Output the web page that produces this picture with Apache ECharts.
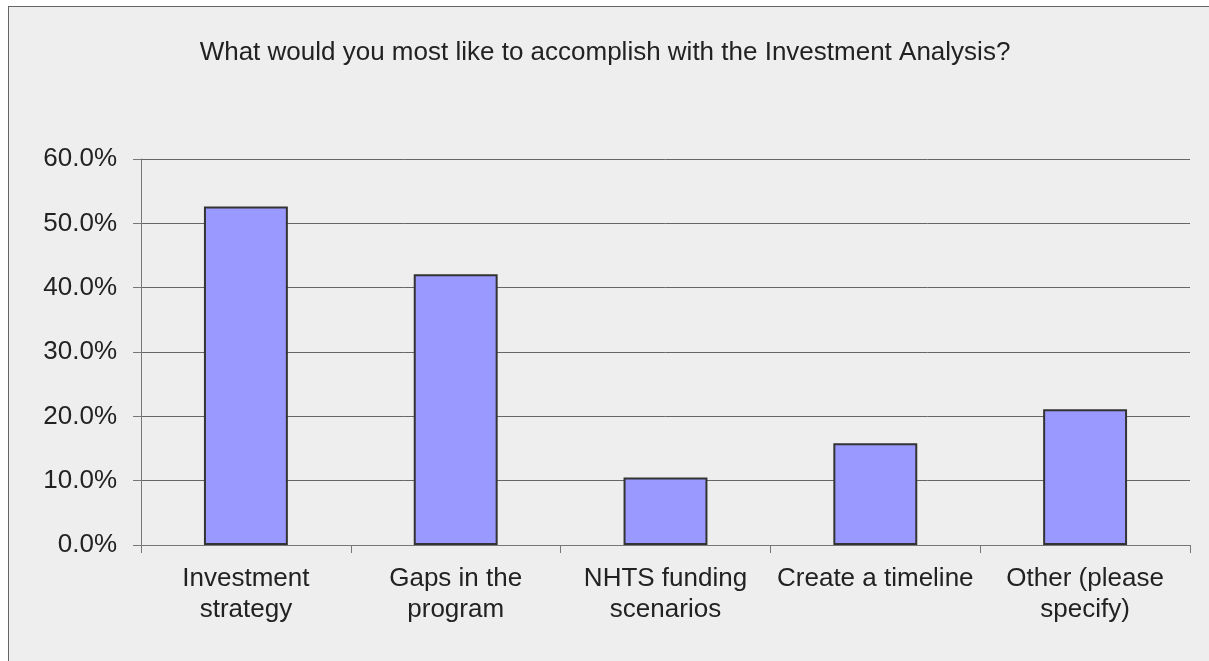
<!DOCTYPE html>
<html><head><meta charset="utf-8">
<script src="https://cdn.jsdelivr.net/npm/echarts@6/dist/echarts.min.js"></script>
<style>
html,body{margin:0;padding:0;background:#fff;width:1209px;height:661px;overflow:hidden;}
#frame{position:absolute;left:8px;top:6px;width:1300px;height:700px;border:1px solid #666;background:#eeeeee;}
#chart{position:absolute;left:0;top:0;width:1209px;height:661px;}
</style></head>
<body>
<div id="frame"></div>
<div id="chart"></div>
<script>
const categories = ['Investment\nstrategy', 'Gaps in the\nprogram', 'NHTS funding\nscenarios', 'Create a timeline', 'Other (please\nspecify)'];
const values = [52.6, 42.1, 10.5, 15.8, 21.1];
const yTicks = { min: 0, max: 60, interval: 10 };
const titleText = 'What would you most like to accomplish with the Investment Analysis?';

const chart = echarts.init(document.getElementById('chart'), null, {renderer: 'canvas'});
chart.setOption({
  backgroundColor: 'transparent',
  animation: false,
  title: {
    text: titleText, left: 600, top: 35, textAlign: 'center',
    textStyle: { fontFamily: 'Liberation Sans, Arial, sans-serif', fontSize: 26, fontWeight: 'normal', color: '#222' }
  },
  grid: { left: 141, right: 19, top: 159, bottom: 116 },
  xAxis: {
    type: 'category', data: categories,
    axisLine: { show: true, lineStyle: { color: '#777', width: 1 } },
    axisTick: { show: true, length: 8, alignWithLabel: false, interval: 0, lineStyle: { color: '#777' } },
    axisLabel: { interval: 0, margin: 18, lineHeight: 31, fontFamily: 'Liberation Sans, Arial, sans-serif', fontSize: 26, color: '#222' }
  },
  yAxis: {
    type: 'value', min: yTicks.min, max: yTicks.max, interval: yTicks.interval,
    axisLine: { show: true, lineStyle: { color: '#777', width: 1 } },
    axisTick: { show: true, length: 8, lineStyle: { color: '#777' } },
    splitLine: { show: true, lineStyle: { color: '#666', width: 1 } },
    axisLabel: { margin: 24, formatter: v => v.toFixed(1) + '%', fontFamily: 'Liberation Sans, Arial, sans-serif', fontSize: 26, color: '#222' }
  },
  series: [{
    type: 'bar', data: values, barWidth: '40%',
    itemStyle: { color: '#9999ff', borderColor: '#333', borderWidth: 2 }
  }]
});
</script>
</body></html>
